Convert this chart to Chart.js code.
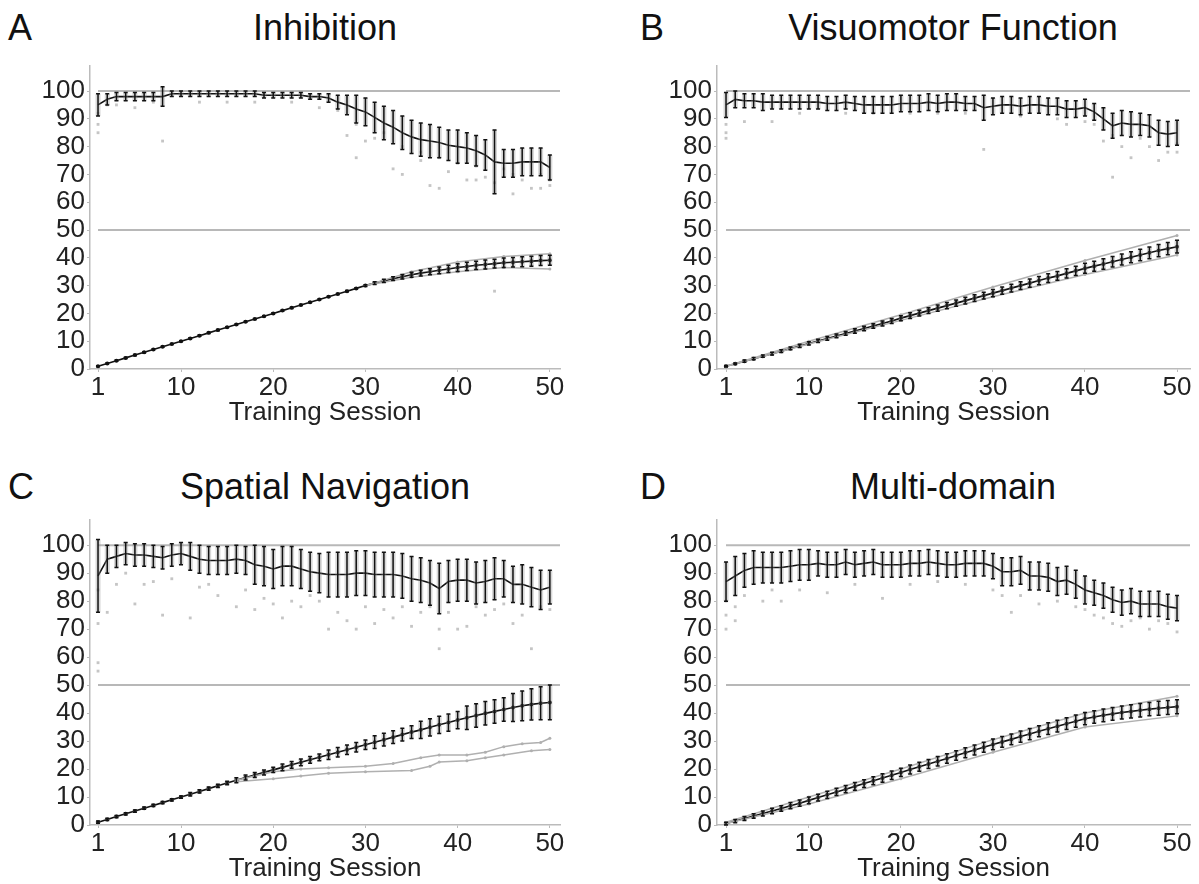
<!DOCTYPE html>
<html>
<head>
<meta charset="utf-8">
<script src="https://cdn.jsdelivr.net/npm/chart.js@4.4.1/dist/chart.umd.min.js"></script>
<style>
  body { margin: 0; background: #fff; }
  #fig { position: relative; width: 1199px; height: 884px; font-family: 'Liberation Sans', Arial, sans-serif; color: #111; }
  .panel { position: absolute; }
  .lbl { position: absolute; font-size: 36px; line-height: 36px; }
  .ttl { position: absolute; font-size: 36px; line-height: 36px; transform: translateX(-50%); white-space: nowrap; }
</style>
</head>
<body>
<div id="fig">
  <div class="lbl" style="left:8px;top:10px">A</div>
  <div class="ttl" style="left:325px;top:10px">Inhibition</div>
  <div class="lbl" style="left:640px;top:10px">B</div>
  <div class="ttl" style="left:953px;top:10px">Visuomotor Function</div>
  <div class="lbl" style="left:8px;top:469px">C</div>
  <div class="ttl" style="left:325px;top:469px">Spatial Navigation</div>
  <div class="lbl" style="left:640px;top:469px">D</div>
  <div class="ttl" style="left:953px;top:469px">Multi-domain</div>

  <div class="panel" style="left:0;top:0"><canvas id="pA" width="600" height="442"></canvas></div>
  <div class="panel" style="left:600px;top:0"><canvas id="pB" width="599" height="442"></canvas></div>
  <div class="panel" style="left:0;top:442px"><canvas id="pC" width="600" height="442"></canvas></div>
  <div class="panel" style="left:600px;top:442px"><canvas id="pD" width="599" height="442"></canvas></div>
</div>
<script>
// sessions and ticks
const sessions = [1,2,3,4,5,6,7,8,9,10,11,12,13,14,15,16,17,18,19,20,21,22,23,24,25,
  26,27,28,29,30,31,32,33,34,35,36,37,38,39,40,41,42,43,44,45,46,47,48,49,50];
const xTicks = [1, 10, 20, 30, 40, 50];
const yTicks = [0, 10, 20, 30, 40, 50, 60, 70, 80, 90, 100];
const refLines = [100, 50];

// A - Inhibition
const inhAcc = [95,97,98,98,98,98,98,98,99,99, 99,99,99,99,99,99,99,99,98.5,98.5,
  98.5,98.5,98.5,98,98,97.5,96,95,93.5,92.5, 90.5,88.5,87,85,83.5,82.5,82,81.5,80.5,80,
  79.5,78.5,77,74.5,74,74,74.5,74.5,74.5,72.5];
const inhAccSd = [4,2,1.5,1.5,1.5,1.5,1.5,3.5,1,1, 1,1,1,1,1,1,1,1,1,1,
  1,1,1,1,1,1.5,2.5,3.5,5,5, 5.5,6,6,6,6,6,6,5.5,5.5,6, 5.5,5.5,5.5,11.5,5,5,5,5,5,4.5];
const inhLevel = [1,2,3,4,5,6,7,8,9,10, 11,12,13,14,15,16,17,18,19,20,
  21,22,23,24,25,26,27,28,29,30, 30.9,31.7,32.5,33.2,33.9,34.5,35,35.5,36,36.5,
  36.9,37.3,37.6,37.9,38.2,38.4,38.6,38.8,39,39.1];
const inhLevelSd = [0.2,0.2,0.2,0.2,0.2,0.2,0.2,0.2,0.2,0.2, 0.2,0.2,0.2,0.2,0.2,0.2,0.2,0.2,0.2,0.2,
  0.2,0.2,0.2,0.2,0.2,0.2,0.2,0.2,0.2,0.3, 0.5,0.6,0.7,0.8,0.9,1,1.1,1.2,1.3,1.4,
  1.5,1.5,1.6,1.6,1.7,1.7,1.8,1.8,1.8,1.8];
const inhFast = [[30,30],[35,35],[40,38.5],[45,40.5],[50,41.5]];
const inhSlow = [[30,30],[35,33],[40,35],[45,36.5],[50,36]];
const inhPoints = [[1,88],[1,85],[1,92],[2,95],[3,95],[5,94],[7,96],[8,82],[12,96],[15,96],[18,96],
  [22,96],[25,94],[27,93],[28,84],[29,76],[29,88],[30,82],[31,83],[32,85],[33,72],[34,70],[34,80],
  [36,75],[36,78],[37,66],[38,65],[38,76],[39,71],[40,74],[41,68],[42,68],[42,73],[43,69],[44,67],
  [45,72],[46,63],[46,70],[47,68],[48,65],[49,65],[49,70],[50,66],[50,68],[44,28]];

// B - Visuomotor Function
const visAcc = [95,97,96.5,96.5,96,96,96,96,96,96, 96,95.5,95.5,96,95.5,95,95,95,95,95.5,
  95.5,95.5,96,95.5,96,96,95.5,95.5,94,94.5, 95,95,94.5,95,95,94.5,94.5,93.5,93.5,94,
  92.5,90,87.5,88.5,88,88,87.5,85,84.5,85];
const visAccSd = [4.5,3,2.5,2.5,3,2.5,2.5,2.5,2.5,2.5, 2.5,2.5,2.5,2.5,2.5,3,3,3,3,3,
  3,3,3,3,3,3,2.5,2.5,4.5,3, 3,3,3,3,3,3,3,3,3,3, 3,4,4.5,4.5,4.5,4,4,4.5,4.5,4.5];
const visLevel = [1,1.9,2.8,3.7,4.6,5.5,6.4,7.4,8.3,9.2, 10.1,11,11.9,12.8,13.7,14.6,15.5,16.4,17.3,18.3,
  19.2,20.1,21,21.9,22.8,23.7,24.6,25.5,26.4,27.3, 28.2,29.1,30,30.9,31.8,32.7,33.5,34.4,35.3,36.2,
  37,37.8,38.6,39.4,40.2,41,41.8,42.6,43.3,44];
const visLevelSd = [0.3,0.3,0.4,0.4,0.4,0.5,0.5,0.5,0.6,0.6, 0.6,0.7,0.7,0.7,0.8,0.8,0.8,0.9,0.9,0.9,
  1,1,1,1.1,1.1,1.1,1.2,1.2,1.2,1.3, 1.3,1.4,1.4,1.5,1.5,1.6,1.6,1.7,1.7,1.8,
  1.8,1.9,1.9,2,2,2.1,2.1,2.2,2.2,2.3];
const visFast = [[1,1],[10,10],[20,19.5],[30,29.5],[40,39],[50,48]];
const visSlow = [[1,1],[10,9],[20,17.5],[30,26],[40,34],[50,41]];
const visPoints = [[1,85],[1,83],[1,88],[3,89],[6,89],[9,92],[14,92],[17,92],[21,92],[24,92],[27,92],
  [29,79],[33,91],[37,90],[38,88],[40,89],[41,88],[42,82],[43,69],[43,84],[44,80],[45,76],
  [46,83],[47,80],[48,75],[49,78],[50,78],[50,81]];

// C - Spatial Navigation
const spaAcc = [89,95,96,97,96.5,96.5,96,95.5,96.5,97, 96,95,94.5,94.5,94.5,95,94.5,93,92.5,91.5,
  92.5,92.5,91.5,90.5,90,89.5,89.5,89.5,90,90, 89.5,89.5,89.5,89,88,87.5,86.5,84.5,87,87.5,
  87.5,86.5,87,88,88,86,86,85,84,85];
const spaAccSd = [13,5,4,4,4,4,4,4,4,4, 5,5,5,5,5,5,5,7,7,7,
  7,7,7,7,7,8,8,8,8,8, 8,8,8,8,8,8,8,9,7.5,7.5, 7.5,7.5,7.5,7.5,6.5,6.5,7,7,7,6];
const spaLevel = [1,2,3,4,5,6,7,8,9,10, 11,12,13,14,15,16,17,17.9,18.8,19.7,
  20.6,21.5,22.4,23.3,24.2,25.1,26,26.9,27.8,28.7, 29.6,30.5,31.4,32.3,33.2,34,34.9,35.8,36.6,37.5,
  38.3,39.1,39.9,40.6,41.3,42,42.6,43.1,43.5,43.8];
const spaLevelSd = [0.4,0.4,0.4,0.4,0.4,0.4,0.4,0.4,0.4,0.4, 0.6,0.6,0.6,0.6,0.6,0.9,0.9,0.9,0.9,0.9,
  1.2,1.2,1.2,1.2,1.2,1.7,1.7,1.7,1.7,1.7, 2.3,2.3,2.3,2.3,2.3,3.1,3.1,3.1,3.1,3.1,
  4.2,4.2,4.2,4.2,4.2,5,5.3,5.6,5.9,6.2];
const spaSlow1 = [[16,16],[20,19],[23,20],[26,20.5],[30,21],[33,22],[36,24],[38,25],[41,25],
  [43,26],[45,28],[47,29],[49,29.5],[50,31]];
const spaSlow2 = [[16,15.5],[20,16.5],[23,17.5],[26,18.5],[30,19],[35,19.5],[37,21],[38,22.5],
  [41,23],[43,24],[45,25],[48,26.5],[50,27]];
const spaPoints = [[1,58],[1,55],[1,72],[1,84],[2,76],[3,86],[4,90],[5,79],[6,86],[7,87],[8,75],
  [9,88],[11,74],[12,85],[13,86],[14,82],[16,78],[17,84],[18,77],[19,81],[20,79],[21,74],[22,80],
  [23,78],[24,82],[25,80],[26,70],[27,76],[28,73],[29,70],[30,78],[31,72],[32,77],[33,74],[34,78],
  [35,71],[36,76],[37,78],[38,63],[38,70],[39,76],[40,70],[41,71],[42,78],[43,75],[44,77],[45,79],
  [46,72],[47,75],[48,63],[49,78],[50,77]];

// D - Multi-domain
const mulAcc = [87,89,91,92,92,92,92,92.5,93,93, 93.5,93,93,94,93,93.5,94,93,93,93,
  93.5,93.5,94,93.5,93,93,93.5,93.5,93.5,92.5, 90.5,90.5,91,89,89,88.5,87,87.5,86,84,
  83,82,80.5,79.5,80,79,79,79,78,77.5];
const mulAccSd = [7,7,6,6,5.5,5.5,5.5,5.5,5.5,5.5, 4.5,4.5,4.5,4.5,4.5,4.5,4.5,4.5,4.5,4.5,
  4.5,4.5,4.5,4.5,4.5,4.5,4.5,4.5,4.5,4.5, 5,5,5,5,5,5,5,5,5,5, 4.5,4.5,4.5,4.5,4.5,4.5,4.5,4.5,4.5,4.5];
const mulLevel = [0.5,1.4,2.3,3.2,4.1,5,5.9,6.9,7.8,8.8, 9.8,10.8,11.8,12.8,13.8,14.8,15.8,16.8,17.8,18.8,
  19.8,20.8,21.8,22.8,23.8,24.8,25.8,26.8,27.8,28.8, 29.7,30.6,31.6,32.5,33.5,34.4,35.3,36.2,37.1,38,
  38.6,39.2,39.7,40.2,40.6,41,41.4,41.7,42,42.3];
const mulLevelSd = [0.5,0.6,0.7,0.8,0.9,1,1,1.1,1.1,1.2, 1.2,1.3,1.3,1.3,1.4,1.4,1.4,1.5,1.5,1.5,
  1.6,1.6,1.6,1.7,1.7,1.7,1.8,1.8,1.8,1.9, 1.9,1.9,2,2,2,2.1,2.1,2.1,2.2,2.2,
  2.2,2.3,2.3,2.3,2.4,2.4,2.4,2.5,2.5,2.5];
const mulFast = [[1,1],[10,10],[20,20],[30,30.5],[40,40],[50,46]];
const mulSlow = [[1,0.5],[10,7.5],[20,16.5],[30,26],[40,35],[50,39]];
const mulPoints = [[1,70],[1,75],[1,80],[2,73],[2,78],[3,82],[5,80],[6,84],[7,80],[9,84],[12,83],
  [15,86],[18,81],[21,86],[24,87],[27,86],[30,84],[31,82],[32,76],[33,82],[35,79],[37,80],[39,78],
  [40,77],[41,75],[42,74],[43,72],[44,71],[45,73],[46,74],[47,70],[48,73],[49,72],[50,69]];

// draws mean +/- sd bars through the chart scales
const errorBars = {
  id: 'errorBars',
  afterDatasetsDraw(chart) {
    const { ctx, scales: { x, y } } = chart;
    chart.data.datasets.forEach(ds => {
      if (!ds.errors) return;
      ctx.save();
      ds.data.forEach((p, j) => {
        const e = ds.errors[j];
        if (!e) return;
        const px = x.getPixelForValue(p.x);
        const top = y.getPixelForValue(p.y + e);
        const bot = y.getPixelForValue(p.y - e);
        // soft grey halo, like the overlapping individual points
        ctx.strokeStyle = 'rgba(140,140,140,0.35)';
        ctx.lineWidth = 5;
        ctx.beginPath();
        ctx.moveTo(px, top); ctx.lineTo(px, bot);
        ctx.stroke();
        ctx.strokeStyle = '#111';
        ctx.lineWidth = 1.5;
        ctx.beginPath();
        ctx.moveTo(px, top); ctx.lineTo(px, bot);
        ctx.moveTo(px - 2, top); ctx.lineTo(px + 2, top);
        ctx.moveTo(px - 2, bot); ctx.lineTo(px + 2, bot);
        ctx.stroke();
      });
      ctx.restore();
    });
  }
};

// grey lines at 100 % and 50
const guideLines = {
  id: 'guideLines',
  beforeDatasetsDraw(chart) {
    const { ctx, chartArea, scales: { x, y } } = chart;
    ctx.save();
    ctx.strokeStyle = '#b8b8b8';
    ctx.lineWidth = 2;
    refLines.forEach(v => {
      const py = y.getPixelForValue(v);
      ctx.beginPath();
      ctx.moveTo(x.getPixelForValue(1), py);
      ctx.lineTo(chartArea.right, py);
      ctx.stroke();
    });
    ctx.restore();
  }
};

const tickFont = { family: "'Liberation Sans', Arial", size: 26 };

function toXY(vals) {
  return vals.map((v, i) => ({ x: sessions[i], y: v }));
}
function pairs(list) {
  return list.map(p => ({ x: p[0], y: p[1] }));
}

function makePanel(id, cfg) {
  const greyLine = list => ({
    type: 'line', data: pairs(list), borderColor: '#b0b0b0', borderWidth: 1.5,
    pointRadius: 1.5, pointBackgroundColor: '#b0b0b0', pointBorderWidth: 0, tension: 0
  });
  const datasets = [
    { type: 'scatter', data: pairs(cfg.points), pointRadius: 2, pointStyle: 'rect',
      backgroundColor: 'rgba(150,150,150,0.55)', borderWidth: 0 },
    ...cfg.greyLines.map(greyLine),
    { type: 'line', data: toXY(cfg.acc), errors: cfg.accSd, borderColor: '#111', borderWidth: 1.6,
      pointRadius: 0, tension: 0 },
    { type: 'line', data: toXY(cfg.level), errors: cfg.levelSd, borderColor: '#111', borderWidth: 1.6,
      pointRadius: 2, pointBackgroundColor: '#111', pointBorderWidth: 0, tension: 0 }
  ];

  new Chart(document.getElementById(id), {
    data: { datasets },
    plugins: [guideLines, errorBars],
    options: {
      responsive: false,
      animation: false,
      events: [],
      layout: { padding: { top: cfg.top, right: cfg.right, left: 0, bottom: cfg.bottom } },
      plugins: { legend: { display: false }, tooltip: { enabled: false } },
      scales: {
        x: {
          type: 'linear', min: cfg.xMin, max: cfg.xMax,
          afterBuildTicks: s => { s.ticks = xTicks.map(v => ({ value: v })); },
          afterFit: s => { s.height = 59; },
          ticks: { font: tickFont, color: '#222', padding: 0, maxRotation: 0, autoSkip: false },
          grid: { drawOnChartArea: false, tickLength: 3, color: '#bbb' },
          border: { color: '#bbb', width: 1.5 },
          title: { display: true, text: 'Training Session', color: '#222',
            font: { family: "'Liberation Sans', Arial", size: 26 },
            padding: { top: 0, bottom: 0 } }
        },
        y: {
          min: 0, max: 109,
          afterBuildTicks: s => { s.ticks = yTicks.map(v => ({ value: v })); },
          afterFit: s => { s.width = cfg.left; },
          ticks: { font: tickFont, color: '#222', padding: 2, autoSkip: false },
          grid: { drawOnChartArea: false, tickLength: 3, color: '#bbb' },
          border: { color: '#bbb', width: 1.5 }
        }
      }
    }
  });
}

makePanel('pA', { acc: inhAcc, accSd: inhAccSd, level: inhLevel, levelSd: inhLevelSd,
  greyLines: [inhFast, inhSlow], points: inhPoints,
  left: 90, right: 40, top: 66, bottom: 14, xMin: 0.13, xMax: 51.1 });
makePanel('pB', { acc: visAcc, accSd: visAccSd, level: visLevel, levelSd: visLevelSd,
  greyLines: [visFast, visSlow], points: visPoints,
  left: 117, right: 9, top: 66, bottom: 14, xMin: 0.02, xMax: 51.41 });
makePanel('pC', { acc: spaAcc, accSd: spaAccSd, level: spaLevel, levelSd: spaLevelSd,
  greyLines: [spaSlow1, spaSlow2], points: spaPoints,
  left: 90, right: 40, top: 78, bottom: 0, xMin: 0.13, xMax: 51.1 });
makePanel('pD', { acc: mulAcc, accSd: mulAccSd, level: mulLevel, levelSd: mulLevelSd,
  greyLines: [mulFast, mulSlow], points: mulPoints,
  left: 117, right: 9, top: 78, bottom: 0, xMin: 0.02, xMax: 51.41 });
</script>
</body>
</html>
